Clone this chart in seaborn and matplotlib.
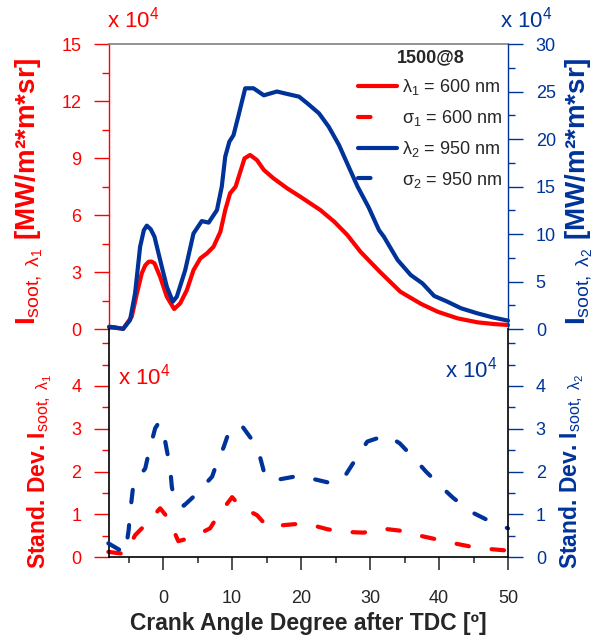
import matplotlib
matplotlib.use("Agg")
import matplotlib.pyplot as plt
import seaborn as sns
from matplotlib.lines import Line2D
from matplotlib.ticker import MultipleLocator

sns.set_style("ticks")
plt.rcParams['font.family'] = ['Liberation Sans', 'DejaVu Sans']
plt.rcParams['mathtext.fontset'] = 'custom'
plt.rcParams['mathtext.rm'] = 'Liberation Sans'
plt.rcParams['mathtext.bf'] = 'Liberation Sans:bold'
plt.rcParams['mathtext.it'] = 'Liberation Sans:italic'
plt.rcParams['mathtext.sf'] = 'Liberation Sans'

RED = "#ff0000"
BLUE = "#003399"

# soot intensity at 600 nm (x 10^4, left axis)
ca_l1 = [-7.8, -7.0, -5.8, -4.55, -3.8, -3.1, -2.6, -2.1, -1.7, -1.26, -0.44, 0.53, 1.6,
         2.47, 3.44, 4.4, 5.4, 6.35, 7.3, 8.3, 9.0, 9.7, 10.5, 11.8, 12.6, 13.6, 14.6,
         16.0, 18.0, 19.9, 22.8, 24.8, 26.7, 28.6, 31.4, 34.4, 37.4, 39.8, 42.7, 45.6,
         48.0, 50.0]
int_l1 = [0.08, 0.06, 0.02, 0.65, 1.88, 2.93, 3.35, 3.54, 3.55, 3.46, 2.75, 1.7, 1.05,
          1.35, 2.05, 3.1, 3.72, 3.98, 4.33, 5.12, 6.26, 7.14, 7.49, 8.98, 9.16, 8.89, 8.37,
          7.93, 7.4, 6.96, 6.26, 5.65, 4.95, 4.07, 3.02, 1.96, 1.32, 0.91, 0.56, 0.35,
          0.26, 0.21]

# soot intensity at 950 nm (x 10^4, right axis)
ca_l2 = [-7.85, -7.0, -5.8, -4.8, -4.07, -3.34, -2.8, -2.37, -1.8, -1.26, -0.2, 0.53,
         1.4, 1.98, 3.2, 4.4, 5.6, 6.6, 7.8, 8.5, 9.0, 9.6, 10.2, 10.9, 11.9, 13.1, 14.6,
         16.5, 18.0, 19.7, 20.9, 22.6, 24.0, 25.5, 26.9, 28.2, 29.8, 31.3, 32.0, 34.0,
         35.9, 37.6, 39.3, 41.2, 43.2, 45.6, 47.8, 50.0]
int_l2 = [0.24, 0.18, 0.0, 0.94, 3.76, 8.66, 10.4, 10.88, 10.5, 9.72, 6.56, 4.46, 2.88,
          3.4, 6.2, 10.06, 11.36, 11.2, 12.52, 14.98, 18.14, 19.72, 20.4, 22.4, 25.34,
          25.34, 24.6, 25.0, 24.74, 24.46, 23.76, 22.7, 21.3, 19.36, 17.08, 14.98, 12.8,
          10.4, 9.72, 7.26, 5.68, 4.8, 3.48, 2.88, 2.18, 1.64, 1.22, 0.88]

# standard deviation at 600 nm (x 10^4)
ca_s1 = [-7.95, -5.5, -4.07, -2.6, -0.44, 0.77, 2.2, 4.2, 6.8, 8.0, 10.0, 11.2, 13.6,
         15.1, 18.5, 20.6, 23.8, 26.0, 29.1, 31.5, 34.7, 36.9, 40.0, 42.2, 45.3, 47.8, 50.0]
sd_s1 = [0.12, 0.07, 0.51, 0.75, 1.14, 0.9, 0.37, 0.46, 0.67, 0.98, 1.4, 1.18, 0.98,
         0.71, 0.76, 0.79, 0.65, 0.59, 0.57, 0.67, 0.61, 0.51, 0.4, 0.32, 0.22, 0.18, 0.15]

# standard deviation at 950 nm (x 10^4)
ca_s2 = [-7.95, -5.5, -5.0, -4.8, -4.3, -2.6, -2.1, -1.16, -0.68, -0.1, 0.53, 1.0, 1.26,
         1.74, 3.0, 4.4, 5.4, 7.1, 7.6, 8.8, 9.5, 10.7, 11.5, 12.9, 13.9, 14.8, 16.0, 17.0,
         19.7, 20.9, 21.9, 24.8, 26.5, 28.2, 29.6, 32.4, 34.3, 36.6, 38.1, 40.4, 42.0,
         44.6, 46.7, 50.0]
sd_s2 = [0.32, 0.09, 0.63, 1.02, 1.72, 2.07, 2.43, 3.01, 3.13, 3.05, 2.5, 2.11, 1.64,
         1.26, 1.2, 1.41, 1.58, 1.88, 2.11, 2.58, 2.91, 2.89, 3.05, 2.74, 2.43, 1.88, 1.79,
         1.82, 1.9, 1.88, 1.82, 1.71, 1.93, 2.36, 2.7, 2.85, 2.66, 2.27, 2.0, 1.63, 1.39,
         1.06, 0.89, 0.67]

legend_labels = [r"$\mathrm{λ_1}$ = 600 nm", r"$\mathrm{σ_1}$ = 600 nm",
                 r"$\mathrm{λ_2}$ = 950 nm", r"$\mathrm{σ_2}$ = 950 nm"]

dash = (0, (3, 5.5))

fig = plt.figure(figsize=(5.97, 6.36), dpi=100)
ax_top = fig.add_axes([0.1826, 0.4827, 0.6683, 0.4481])
ax_top_r = ax_top.twinx()
ax_bot = fig.add_axes([0.1826, 0.1242, 0.6683, 0.3585])
ax_bot_r = ax_bot.twinx()

sns.lineplot(x=ca_l1, y=int_l1, ax=ax_top, color=RED, lw=3, clip_on=False)
sns.lineplot(x=ca_l2, y=int_l2, ax=ax_top_r, color=BLUE, lw=3, clip_on=False)
sns.lineplot(x=ca_s1, y=sd_s1, ax=ax_bot, color=RED, lw=3, linestyle=dash,
             dash_capstyle='round', clip_on=False)
sns.lineplot(x=ca_s2, y=sd_s2, ax=ax_bot_r, color=BLUE, lw=3, linestyle=dash,
             dash_capstyle='round', clip_on=False)

for ax in [ax_top, ax_top_r, ax_bot, ax_bot_r]:
    ax.set_xlim(-7.85, 50)
    ax.set_xlabel("")
    ax.set_ylabel("")
    ax.patch.set_alpha(0)

ax_top.set_ylim(0, 15)
ax_top_r.set_ylim(0, 30)
ax_bot.set_ylim(0, 5.333)
ax_bot_r.set_ylim(0, 5.333)

# top panel axes
ax_top.set_yticks([0, 3, 6, 9, 12, 15])
ax_top.yaxis.set_minor_locator(MultipleLocator(1.5))
ax_top_r.set_yticks([0, 5, 10, 15, 20, 25, 30])
ax_top_r.yaxis.set_minor_locator(MultipleLocator(2.5))
for a in [ax_top, ax_top_r]:
    a.tick_params(axis='x', which='both', bottom=False, top=False, labelbottom=False)
    for s in a.spines.values():
        s.set_visible(False)
ax_top.spines['left'].set_visible(True)
ax_top.spines['left'].set_color(RED)
ax_top.spines['left'].set_linewidth(1)
ax_top.spines['top'].set_visible(True)
ax_top.spines['top'].set_color('#808080')
ax_top.spines['top'].set_linewidth(1.2)
ax_top_r.spines['right'].set_visible(True)
ax_top_r.spines['right'].set_color(BLUE)
ax_top_r.spines['right'].set_linewidth(1)

ax_top.tick_params(axis='y', which='major', length=11, width=1, color=RED,
                   labelcolor=RED, labelsize=13, pad=9)
ax_top.tick_params(axis='y', which='minor', length=5, width=1, color=RED)
ax_top_r.tick_params(axis='y', which='major', length=11, width=1, color=BLUE,
                     labelcolor=BLUE, labelsize=13, pad=9)
ax_top_r.tick_params(axis='y', which='minor', length=5, width=1, color=BLUE)

# bottom panel axes
ax_bot.set_yticks([0, 1, 2, 3, 4])
ax_bot.yaxis.set_minor_locator(MultipleLocator(0.5))
ax_bot_r.set_yticks([0, 1, 2, 3, 4])
ax_bot_r.yaxis.set_minor_locator(MultipleLocator(0.5))
ax_bot.set_xticks([0, 10, 20, 30, 40, 50])
ax_bot.xaxis.set_minor_locator(MultipleLocator(5))
for a in [ax_bot, ax_bot_r]:
    for s in a.spines.values():
        s.set_visible(False)
for side in ['left', 'bottom']:
    ax_bot.spines[side].set_visible(True)
    ax_bot.spines[side].set_color('black')
    ax_bot.spines[side].set_linewidth(1.2)
ax_bot_r.spines['right'].set_visible(True)
ax_bot_r.spines['right'].set_color('black')
ax_bot_r.spines['right'].set_linewidth(1.2)

ax_bot.tick_params(axis='y', which='major', length=11, width=1, color=RED,
                   labelcolor=RED, labelsize=13, pad=9)
ax_bot.tick_params(axis='y', which='minor', length=5, width=1, color=RED)
ax_bot_r.tick_params(axis='y', which='major', length=11, width=1, color=BLUE,
                     labelcolor=BLUE, labelsize=13, pad=9)
ax_bot_r.tick_params(axis='y', which='minor', length=5, width=1, color=BLUE)
ax_bot.tick_params(axis='x', which='major', length=9, width=1.2, color='#333333',
                   labelsize=13, pad=15)
ax_bot.tick_params(axis='x', which='minor', length=4, width=1.2, color='#333333')
ax_bot_r.tick_params(axis='x', which='both', bottom=False, top=False)

# legend
handles = [Line2D([], [], color=RED, lw=3),
           Line2D([], [], color=RED, lw=3, ls=(0, (3, 12)), dash_capstyle='round'),
           Line2D([], [], color=BLUE, lw=3),
           Line2D([], [], color=BLUE, lw=3, ls=(0, (3, 12)), dash_capstyle='round')]
ax_top_r.legend(handles, legend_labels, loc='upper right', bbox_to_anchor=(1, 1),
                frameon=False, fontsize=13, handlelength=2.15, handletextpad=0.3,
                labelspacing=0.6, borderaxespad=0, borderpad=0.3,
                title="1500@8", title_fontproperties={'weight': 'bold', 'size': 13})

# axis titles
lab_kw = dict(rotation=90, rotation_mode='anchor', ha='center', va='baseline',
              fontweight='bold')
fig.text(0.0586, 0.6989, r"$\mathbf{I}_{\mathrm{soot,\ λ_1}}$ [MW/m²*m*sr]",
         color=RED, fontsize=20, **lab_kw)
fig.text(0.981, 0.6989, r"$\mathbf{I}_{\mathrm{soot,\ λ_2}}$ [MW/m²*m*sr]",
         color=BLUE, fontsize=20, **lab_kw)
fig.text(0.0754, 0.2586, r"Stand. Dev. $\mathbf{I}_{\mathrm{soot,\ λ_1}}$",
         color=RED, fontsize=16.5, **lab_kw)
fig.text(0.9665, 0.2594, r"Stand. Dev. $\mathbf{I}_{\mathrm{soot,\ λ_2}}$",
         color=BLUE, fontsize=16.5, **lab_kw)
fig.text(0.5168, 0.0094, "Crank Angle Degree after TDC [º]", ha='center',
         va='baseline', fontsize=16.5, fontweight='bold')

# multipliers
fig.text(0.1792, 0.956, r"x 10$^4$", color=RED, fontsize=16, va='baseline')
fig.text(0.8375, 0.9575, r"x 10$^4$", color=BLUE, fontsize=16, va='baseline')
fig.text(0.1977, 0.3947, r"x 10$^4$", color=RED, fontsize=16, va='baseline')
fig.text(0.7454, 0.4072, r"x 10$^4$", color=BLUE, fontsize=16, va='baseline')

fig.savefig("out.png", dpi=100)
